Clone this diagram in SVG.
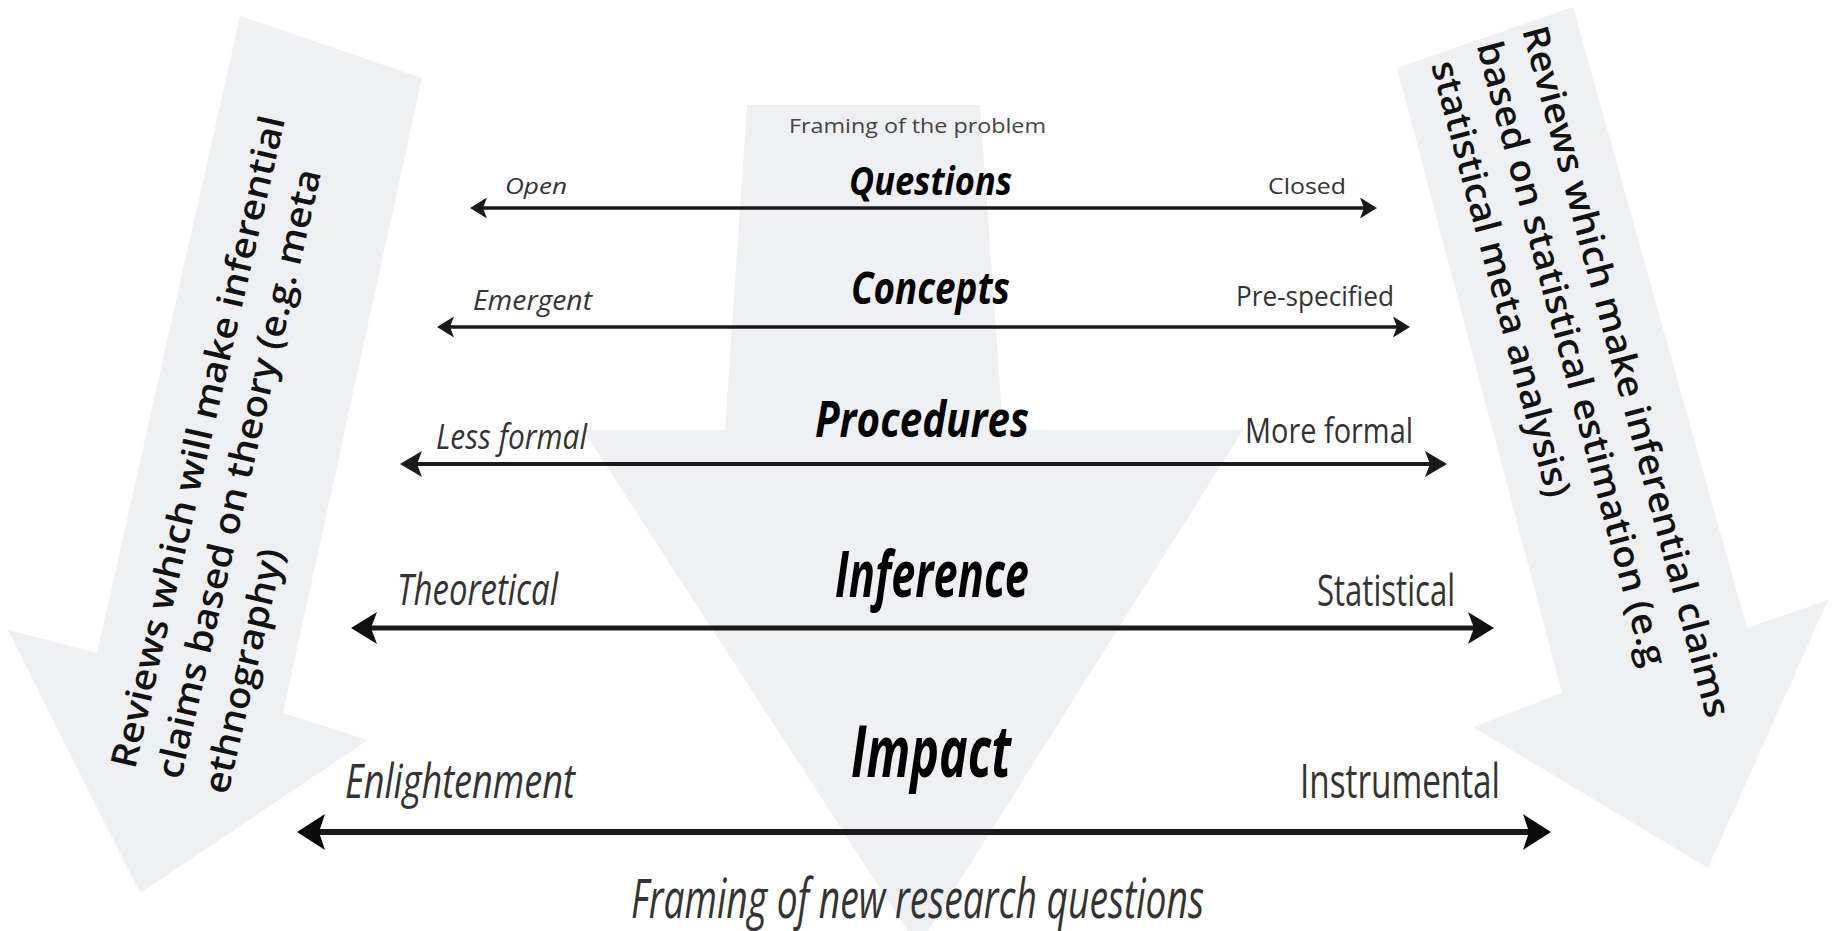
<svg xmlns="http://www.w3.org/2000/svg" width="1833" height="931" viewBox="0 0 1833 931">
  <style>
    .band { fill: #eff0f4; }
    .conn { stroke: #1a1a1a; fill: none; }
    .t { font-family: "Open Sans", "Liberation Sans", sans-serif; }
    .title { font-weight: bold; font-style: italic; fill: #000; }
    .lab { fill: #333; }
    .it { font-style: italic; }
    .side { font-family: "Open Sans", "Liberation Sans", sans-serif; font-size: 36px; font-weight: 600; fill: #111; }
  </style>
  <defs>
    <marker id="ah-s" markerUnits="userSpaceOnUse" viewBox="0 0 17 21" markerWidth="17" markerHeight="21" refX="5" refY="10.5" orient="auto-start-reverse">
      <path d="M0,0 L17,10.5 L0,21 L4,10.5 Z" fill="#1a1a1a"/>
    </marker>
    <marker id="ah-m" markerUnits="userSpaceOnUse" viewBox="0 0 22 26" markerWidth="22" markerHeight="26" refX="6" refY="13" orient="auto-start-reverse">
      <path d="M0,0 L22,13 L0,26 L5,13 Z" fill="#1a1a1a"/>
    </marker>
    <marker id="ah-l" markerUnits="userSpaceOnUse" viewBox="0 0 26 32" markerWidth="26" markerHeight="32" refX="7" refY="16" orient="auto-start-reverse">
      <path d="M0,0 L26,16 L0,32 L6,16 Z" fill="#111"/>
    </marker>
    <marker id="ah-xl" markerUnits="userSpaceOnUse" viewBox="0 0 28 36" markerWidth="28" markerHeight="36" refX="8" refY="18" orient="auto-start-reverse">
      <path d="M0,0 L28,18 L0,36 L6,18 Z" fill="#0a0a0a"/>
    </marker>
  </defs>

  <rect width="1833" height="931" fill="#ffffff"/>

  <g id="arrow-center">
    <polygon class="band" points="747,105 980,105 1003,430 1243,430 918,947 583,430 725,430"/>
  </g>
  <g id="arrow-left">
    <polygon class="band" points="240,16 422,78 283,713 368,740 140,893 8,630 97,653"/>
  </g>
  <g id="arrow-right">
    <polygon class="band" points="1397,68 1573,7 1747,628 1828,600 1708,868 1473,727 1562,693"/>
  </g>

  <g id="connectors">
    <line class="conn" x1="482" y1="208" x2="1365" y2="208" stroke-width="3.5" marker-start="url(#ah-s)" marker-end="url(#ah-s)"/>
    <line class="conn" x1="449" y1="327" x2="1398" y2="327" stroke-width="3.5" marker-start="url(#ah-s)" marker-end="url(#ah-s)"/>
    <line class="conn" x1="416" y1="464" x2="1431" y2="464" stroke-width="4" marker-start="url(#ah-m)" marker-end="url(#ah-m)"/>
    <line class="conn" x1="370" y1="628" x2="1475" y2="628" stroke-width="5" marker-start="url(#ah-l)" marker-end="url(#ah-l)"/>
    <line class="conn" x1="317" y1="832" x2="1531" y2="832" stroke-width="6" marker-start="url(#ah-xl)" marker-end="url(#ah-xl)"/>
  </g>

  <g id="top-label">
    <text class="t" x="789" y="133" font-size="20" fill="#444" textLength="257" lengthAdjust="spacingAndGlyphs">Framing of the problem</text>
  </g>

  <g id="row-questions">
    <text class="t title" x="849" y="195" font-size="40" textLength="163" lengthAdjust="spacingAndGlyphs">Questions</text>
    <text class="t lab it" x="505" y="194" font-size="22" textLength="62" lengthAdjust="spacingAndGlyphs">Open</text>
    <text class="t lab" x="1268" y="194" font-size="22" textLength="78" lengthAdjust="spacingAndGlyphs">Closed</text>
  </g>

  <g id="row-concepts">
    <text class="t title" x="851" y="304" font-size="44" textLength="159" lengthAdjust="spacingAndGlyphs">Concepts</text>
    <text class="t lab it" x="473" y="310" font-size="28" textLength="119" lengthAdjust="spacingAndGlyphs">Emergent</text>
    <text class="t lab" x="1236" y="306" font-size="27" textLength="158" lengthAdjust="spacingAndGlyphs">Pre-specified</text>
  </g>

  <g id="row-procedures">
    <text class="t title" x="815" y="437" font-size="50" textLength="214" lengthAdjust="spacingAndGlyphs">Procedures</text>
    <text class="t lab it" x="436" y="449" font-size="35" textLength="151" lengthAdjust="spacingAndGlyphs">Less formal</text>
    <text class="t lab" x="1245" y="443" font-size="35" textLength="168" lengthAdjust="spacingAndGlyphs">More formal</text>
  </g>

  <g id="row-inference">
    <text class="t title" x="835" y="597" font-size="64" textLength="194" lengthAdjust="spacingAndGlyphs">Inference</text>
    <text class="t lab it" x="397" y="605" font-size="44" textLength="161" lengthAdjust="spacingAndGlyphs">Theoretical</text>
    <text class="t lab" x="1317" y="606" font-size="44" textLength="138" lengthAdjust="spacingAndGlyphs">Statistical</text>
  </g>

  <g id="row-impact">
    <text class="t title" x="851" y="777" font-size="72" textLength="160" lengthAdjust="spacingAndGlyphs">Impact</text>
    <text class="t lab it" x="345" y="798" font-size="48" textLength="230" lengthAdjust="spacingAndGlyphs">Enlightenment</text>
    <text class="t lab" x="1300" y="798" font-size="48" textLength="200" lengthAdjust="spacingAndGlyphs">Instrumental</text>
  </g>

  <g id="bottom-label">
    <text class="t lab it" x="631" y="918" font-size="54" textLength="573" lengthAdjust="spacingAndGlyphs">Framing of new research questions</text>
  </g>

  <g id="left-label" transform="translate(135,770) rotate(-77)">
    <text class="side" x="0" y="0" textLength="668" lengthAdjust="spacingAndGlyphs">Reviews which will make inferential</text>
    <text class="side" x="0" y="47" textLength="624" lengthAdjust="spacingAndGlyphs">claims based on theory (e.g. meta</text>
    <text class="side" x="-4" y="96" textLength="250" lengthAdjust="spacingAndGlyphs">ethnography)</text>
  </g>

  <g id="right-label" transform="translate(1522,30) rotate(75)">
    <text class="side" x="0" y="0" textLength="714" lengthAdjust="spacingAndGlyphs">Reviews which make inferential claims</text>
    <text class="side" x="3" y="48" textLength="645" lengthAdjust="spacingAndGlyphs">based on statistical estimation (e.g</text>
    <text class="side" x="10" y="97" textLength="450" lengthAdjust="spacingAndGlyphs">statistical meta analysis)</text>
  </g>
</svg>
